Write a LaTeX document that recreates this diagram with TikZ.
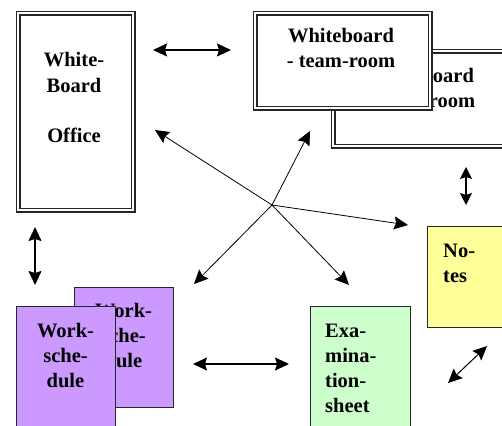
\documentclass[tikz,border=0pt]{standalone}
\usepackage{fontspec}
\setmainfont{Liberation Serif}
\usetikzlibrary{arrows.meta}
\definecolor{wsfill}{HTML}{CC99FF}
\definecolor{exfill}{HTML}{CCFFCC}
\definecolor{ntfill}{HTML}{FFFF99}
\begin{document}
\begin{tikzpicture}[x=1pt,y=-1pt,
  dbox/.style={draw=black!85, line width=1.3pt, double=white, double distance=2.4pt, fill=white, inner sep=0pt, anchor=north west},
  pbox/.style={draw=black!85, line width=1pt, inner sep=0pt, anchor=north west},
  lbl/.style={font=\fontsize{20.5}{25}\selectfont\bfseries, inner sep=0pt, align=center, anchor=base},
  lbll/.style={font=\fontsize{20.5}{25}\selectfont\bfseries, inner sep=0pt, align=left, anchor=base west},
  biarrow/.style={{Stealth[length=14pt,width=13pt,inset=2pt]}-{Stealth[length=14pt,width=13pt,inset=2pt]}, line width=1.4pt},
  thinarrow/.style={-{Stealth[length=14pt,width=13pt,inset=2pt]}, line width=0.8pt}]
\clip (0,0) rectangle (502,425);
\fill[white] (0,0) rectangle (502,425);
% boxes (text nodes: base anchor = baseline of last line)
\node[dbox, minimum width=115pt, minimum height=197pt] (office) at (17.5,12.5) {};
\node[lbl] (officetxt) at (74,142) {White-\\Board\\ \\Office};
\node[dbox, minimum width=180pt, minimum height=95pt] (teamback) at (332.5,50.5) {};
\node[lbl] (teambacktxt) at (421,107) {Whiteboard\\- team-room};
\node[dbox, minimum width=175pt, minimum height=95pt] (team) at (254.5,12.5) {};
\node[lbl] (teamtxt) at (341,68) {Whiteboard\\- team-room};
\node[pbox, fill=wsfill, minimum width=99pt, minimum height=120pt] (wsback) at (74,287) {};
\node[lbl] (wsbacktxt) at (123.5,367) {Work-\\sche-\\dule};
\node[pbox, fill=wsfill, minimum width=99pt, minimum height=130pt] (ws) at (16,306) {};
\node[lbl] (wstxt) at (65.5,387) {Work-\\sche-\\dule};
\node[pbox, fill=exfill, minimum width=100pt, minimum height=130pt] (exam) at (310,306) {};
\node[lbll] (examtxt) at (325,412) {Exa-\\mina-\\tion-\\sheet};
\node[pbox, fill=ntfill, minimum width=90pt, minimum height=101pt] (notes) at (427,226) {};
\node[lbll] (notestxt) at (443,282) {No-\\tes};
% arrow end points
\coordinate (h1a) at (153,50);
\coordinate (h1b) at (231,50);
\coordinate (v1a) at (35,227);
\coordinate (v1b) at (35,285);
\coordinate (v2a) at (466,167);
\coordinate (v2b) at (466,205);
\coordinate (h2a) at (193,364);
\coordinate (h2b) at (289,364);
\coordinate (d1a) at (448,383);
\coordinate (d1b) at (487,346);
\coordinate (x) at (272,205);
\coordinate (toOffice) at (155,130);
\coordinate (toTeam) at (310,131);
\coordinate (toNotes) at (408,225);
\coordinate (toExam) at (349,285);
\coordinate (toWs) at (194,284);
% arrows
\draw[biarrow] (h1a) -- (h1b);
\draw[biarrow] (v1a) -- (v1b);
\draw[biarrow, {Stealth[length=12pt,width=12pt,inset=2pt]}-{Stealth[length=12pt,width=12pt,inset=2pt]}] (v2a) -- (v2b);
\draw[biarrow] (h2a) -- (h2b);
\draw[biarrow, line width=1pt] (d1a) -- (d1b);
\draw[thinarrow] (x) -- (toOffice);
\draw[thinarrow] (x) -- (toTeam);
\draw[thinarrow] (x) -- (toNotes);
\draw[thinarrow] (x) -- (toExam);
\draw[thinarrow] (x) -- (toWs);
\end{tikzpicture}
\end{document}
